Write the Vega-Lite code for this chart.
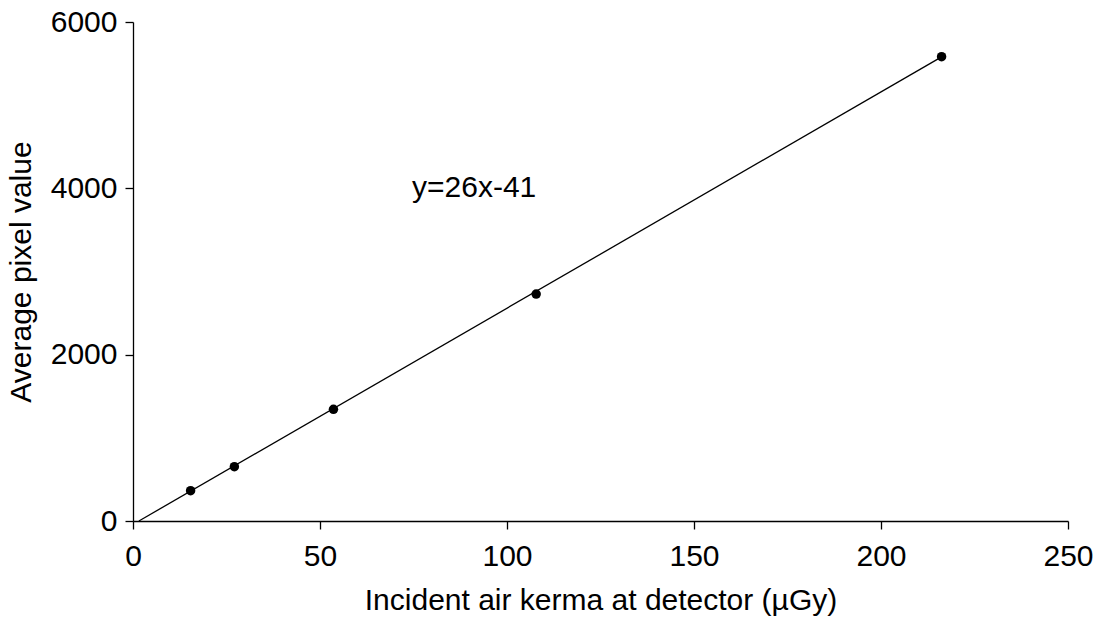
{
  "$schema": "https://vega.github.io/schema/vega-lite/v6.json",
  "autosize": "none",
  "width": 935,
  "height": 499,
  "padding": {"left": 133, "top": 22, "right": 25, "bottom": 103},
  "background": "white",
  "config": {
    "view": {"stroke": null},
    "font": "Liberation Sans",
    "axis": {
      "grid": false,
      "domainColor": "black",
      "domainWidth": 1.3,
      "tickColor": "black",
      "tickWidth": 1.3,
      "tickSize": 8,
      "labelFont": "Liberation Sans",
      "labelFontSize": 30,
      "labelColor": "black",
      "titleFont": "Liberation Sans",
      "titleFontSize": 30,
      "titleFontWeight": "normal",
      "titleColor": "black"
    }
  },
  "datasets": {
    "points": [
      {"kerma": 15.4, "pixel": 364},
      {"kerma": 27.1, "pixel": 653},
      {"kerma": 53.6, "pixel": 1343},
      {"kerma": 107.8, "pixel": 2729},
      {"kerma": 216.2, "pixel": 5583}
    ],
    "fit": [
      {"kerma": 1.58, "pixel": 0},
      {"kerma": 216.2, "pixel": 5580}
    ]
  },
  "layer": [
    {
      "data": {"name": "fit"},
      "mark": {"type": "line", "color": "black", "strokeWidth": 1.3},
      "encoding": {
        "x": {
          "field": "kerma", "type": "quantitative",
          "scale": {"domain": [0, 250], "nice": false, "zero": false},
          "axis": {"values": [0, 50, 100, 150, 200, 250], "format": "d", "title": "Incident air kerma at detector (µGy)", "labelPadding": 12, "titlePadding": 14, "labelFlush": false}
        },
        "y": {
          "field": "pixel", "type": "quantitative",
          "scale": {"domain": [0, 6000], "nice": false},
          "axis": {"values": [0, 2000, 4000, 6000], "format": "d", "title": "Average pixel value", "labelPadding": 8, "titlePadding": 14, "labelFlush": false}
        }
      }
    },
    {
      "data": {"name": "points"},
      "mark": {"type": "circle", "color": "black", "opacity": 1, "size": 90},
      "encoding": {
        "x": {"field": "kerma", "type": "quantitative"},
        "y": {"field": "pixel", "type": "quantitative"}
      }
    },
    {
      "data": {"values": [{"label": "y=26x-41"}]},
      "mark": {"type": "text", "align": "left", "baseline": "alphabetic", "fontSize": 30, "font": "Liberation Sans", "color": "black"},
      "encoding": {
        "x": {"datum": 74.6, "type": "quantitative"},
        "y": {"datum": 3896, "type": "quantitative"},
        "text": {"field": "label"}
      }
    }
  ]
}
